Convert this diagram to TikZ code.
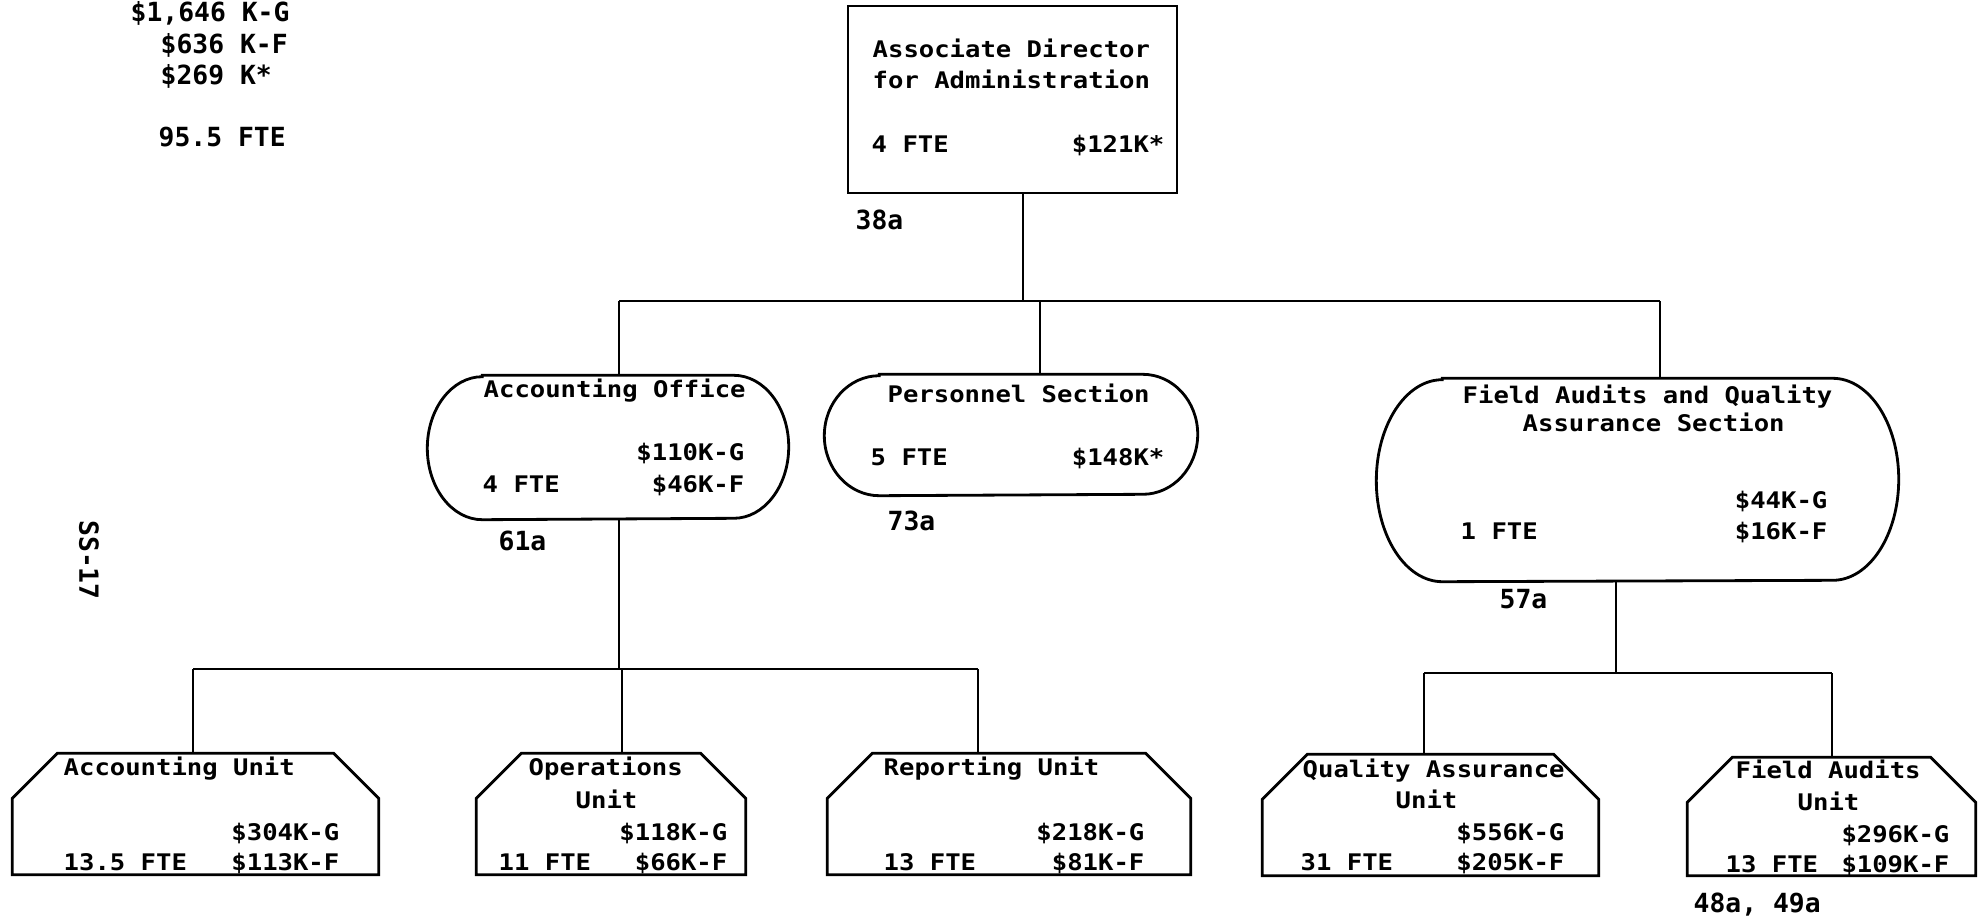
\documentclass[tikz,border=0pt]{standalone}
\usepackage{fontspec}
\usepackage{tikz}
\usetikzlibrary{calc}

\newfontfamily\orgfont[FakeStretch=1.12]{DejaVu Sans Mono}
\newfontfamily\reffont{DejaVu Sans Mono}

% outline of a unit box: node name, chamfer
\newcommand\chamfer[2]{\draw[chart] (#1.south west) -- ($(#1.north west)+(0,-#2)$)
  -- ($(#1.north west)+(#2,0)$) -- ($(#1.north east)+(-#2,0)$)
  -- ($(#1.north east)+(0,-#2)$) -- (#1.south east) -- cycle;}
% outline of an office: node name, x radius, y radius
\newcommand\capsule[3]{\draw[chart] ($(#1.north west)+(#2,0)$) -- ($(#1.north east)+(-#2,0)$)
  arc[start angle=90, end angle=-90, x radius=#2, y radius=#3]
  -- ($(#1.south west)+(#2,0)$)
  arc[start angle=270, end angle=90, x radius=#2, y radius=#3] -- cycle;}

\tikzset{
  chart/.style={line width=0.8pt},
  shell/.style={inner sep=0pt, minimum height=#1},
  txt/.style={inner sep=0pt, font=\orgfont\bfseries\fontsize{6.5}{8}\selectfont},
  ref/.style={inner sep=0pt, font=\reffont\bfseries\fontsize{7.5}{9}\selectfont}
}

\begin{document}
\begin{tikzpicture}[x=0.1mm, y=-0.1mm]
    \useasboundingbox (0,0) rectangle (1988,923);

    % boxes
    \node[shell=18.7mm, minimum width=32.9mm, draw, chart] (dir) at (1012.5,99.5) {};
    \node[shell=14.3mm, minimum width=36mm] (acct) at (608,447.5) {};
    \node[shell=12mm, minimum width=37.2mm] (pers) at (1011,435) {};
    \node[shell=20.2mm, minimum width=52.1mm] (fasec) at (1637.5,480) {};
    \node[shell=12mm, minimum width=36.5mm] (au) at (195.5,814) {};
    \node[shell=12mm, minimum width=26.8mm] (ou) at (611,814) {};
    \node[shell=12mm, minimum width=36.2mm] (ru) at (1009,814) {};
    \node[shell=12mm, minimum width=33.5mm] (qu) at (1430.5,815) {};
    \node[shell=11.7mm, minimum width=28.7mm] (fu) at (1831.5,816.5) {};

    \capsule{acct}{5.5mm}{7.15mm}
    \capsule{pers}{5.5mm}{6mm}
    \capsule{fasec}{6.6mm}{10.1mm}
    \foreach \b in {au, ou, ru, qu, fu}
        {\chamfer{\b}{4.5mm}}

    % connectors
    \coordinate (j0) at (1023,301);
    \coordinate (ja) at (619,301);
    \coordinate (jp) at (1040,301);
    \coordinate (jf) at (1660,301);
    \coordinate (jb) at (619,669);
    \coordinate (ju) at (193,669);
    \coordinate (jo) at (622,669);
    \coordinate (jr) at (978,669);
    \coordinate (jm) at (1616,673);
    \coordinate (jq) at (1424,673);
    \coordinate (jv) at (1832,673);

    \draw[chart] (dir.south -| j0) -- (j0);
    \draw[chart] (ja) -- (jf);
    \foreach \j/\n in {ja/acct, jp/pers, jf/fasec}
        \draw[chart] (\j) -- (\j |- \n.north);
    \draw[chart] (acct.south -| jb) -- (jb);
    \draw[chart] (ju) -- (jr);
    \foreach \j/\n in {ju/au, jo/ou, jr/ru}
        \draw[chart] (\j) -- (\j |- \n.north);
    \draw[chart] (fasec.south -| jm) -- (jm);
    \draw[chart] (jq) -- (jv);
    \foreach \j/\n in {jq/qu, jv/fu}
        \draw[chart] (\j) -- (\j |- \n.north);

    % texts, left aligned
    \foreach \n/\x/\y/\t in {
        d1/872/58/Associate Director, d2/872/89/for Administration, d3/871/152/4 FTE,
        a1/483/397/Accounting Office, a3/482/492/4 FTE,
        p1/887/402/Personnel Section, p2/870/465/5 FTE,
        f1/1462/403/Field Audits and Quality, f2/1522/431/Assurance Section, f4/1460/539/1 FTE,
        u1/63/775/Accounting Unit, u3/63/870/13.5 FTE,
        o1/528/775/Operations, o2/575/808/Unit, o4/498/870/11 FTE,
        e1/883/775/Reporting Unit, e3/883/870/13 FTE,
        q1/1302/777/Quality Assurance, q2/1395/808/Unit, q4/1300/870/31 FTE,
        v1/1735/778/Field Audits, v2/1797/810/Unit, v4/1725/872/13 FTE}
        \node[txt, anchor=base west] (\n) at (\x,\y) {\t};

    % texts, right aligned
    \foreach \n/\x/\y/\t in {
        d4/1165/152/\$121K*,
        a2/745/460/\$110K-G, a4/745/492/\$46K-F,
        p3/1165/465/\$148K*,
        f3/1828/508/\$44K-G, f5/1828/539/\$16K-F,
        u2/340/840/\$304K-G, u4/340/870/\$113K-F,
        o3/728/840/\$118K-G, o5/728/870/\$66K-F,
        e2/1145/840/\$218K-G, e4/1145/870/\$81K-F,
        q3/1565/840/\$556K-G, q5/1565/870/\$205K-F,
        v3/1950/842/\$296K-G, v5/1950/872/\$109K-F}
        \node[txt, anchor=base east] (\n) at (\x,\y) {\t};

    % totals and page references
    \foreach \n/\x/\y/\t in {
        s1/130/22/{\$1,646 K-G}, s2/160/54/\$636 K-F, s3/160/85/\$269 K*, s4/158/147/95.5 FTE,
        r1/855/230/38a, r2/498/550/61a, r3/887/530/73a, r4/1499/608/57a,
        r5/1693/912/{48a, 49a}}
        \node[ref, anchor=base west] (\n) at (\x,\y) {\t};

    \node[ref, rotate=-90] (ss) at (89,560) {SS-17};
\end{tikzpicture}
\end{document}
